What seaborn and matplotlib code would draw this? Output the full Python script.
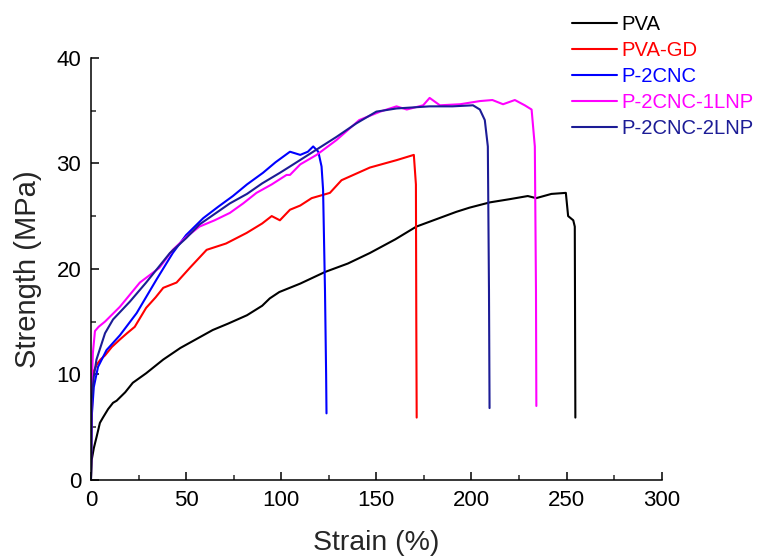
import matplotlib
matplotlib.use("Agg")
import matplotlib.pyplot as plt
import seaborn as sns
import pandas as pd
from matplotlib.ticker import MultipleLocator

sns.set_style("ticks")
plt.rcParams['font.family'] = ['Liberation Sans', 'DejaVu Sans']

labels = ["PVA", "PVA-GD", "P-2CNC", "P-2CNC-1LNP", "P-2CNC-2LNP"]
colors = ["#000000", "#ff0000", "#0000ff", "#ff00ff", "#1c1c96"]

pva_x = [0, 0.4, 1.5, 3, 4.7, 6.3, 9, 11.6, 13.5, 18, 22, 29, 38, 47, 55, 64, 72, 82, 90, 94, 99,
         110, 123, 135, 146.6, 160, 171, 183, 192, 199, 209.7, 220, 229.6, 234, 242, 249.6,
         250.8, 253.5, 254.3, 254.5, 254.6]
pva_y = [0, 1.9, 3.0, 4.1, 5.4, 5.9, 6.7, 7.3, 7.5, 8.3, 9.2, 10.1, 11.4, 12.5, 13.3, 14.2, 14.8,
         15.6, 16.5, 17.2, 17.8, 18.6, 19.7, 20.5, 21.5, 22.8, 24.0, 24.8, 25.4, 25.8, 26.3, 26.6,
         26.9, 26.7, 27.1, 27.2, 25.0, 24.6, 24.0, 12.0, 5.9]

gd_x = [0, 0.3, 1, 3, 5, 7.4, 11, 15.2, 19, 23, 29, 34, 38, 45, 52, 60.8, 71, 81.8, 90, 95, 99.3,
        104.6, 110, 116, 125.6, 131.7, 146.6, 160.6, 169.7, 170.8, 171.0, 171.2]
gd_y = [0, 5.0, 10.1, 10.9, 11.4, 11.8, 12.6, 13.3, 13.9, 14.5, 16.3, 17.3, 18.2, 18.7, 20.1,
        21.8, 22.4, 23.4, 24.3, 25.0, 24.6, 25.6, 26.0, 26.7, 27.2, 28.4, 29.6, 30.3, 30.8,
        28.0, 15.0, 5.9]

c2_x = [0, 0.4, 1.5, 3.7, 8.2, 15.2, 24, 34.5, 43, 50, 59, 67, 74.6, 82, 90.4, 97, 104.6, 110,
        114, 116.8, 119.5, 121.2, 122, 123, 123.6, 123.8]
c2_y = [0, 6.0, 8.8, 10.7, 12.3, 13.7, 15.8, 19.0, 21.5, 23.2, 24.8, 25.9, 26.9, 28.0, 29.1,
        30.1, 31.1, 30.8, 31.1, 31.6, 31.1, 29.7, 27.5, 18.0, 10.0, 6.3]

l1_x = [0, 0.3, 1, 2.1, 4, 7.4, 15.2, 25.7, 36, 43, 50, 57, 65, 73, 80, 87, 95, 102.8, 104.6,
        110, 118.6, 129, 141, 152, 160.6, 166, 174.6, 178, 183.4, 194, 204.4, 211, 216.6, 222.8,
        228, 231.6, 233.3, 233.9, 234.1]
l1_y = [3.0, 8.0, 12.0, 14.1, 14.5, 15.0, 16.4, 18.7, 20.1, 21.8, 23.0, 24.0, 24.6, 25.3, 26.2,
        27.2, 28.0, 28.9, 28.9, 29.9, 30.8, 32.2, 34.1, 34.9, 35.4, 35.1, 35.5, 36.2, 35.5,
        35.6, 35.9, 36.0, 35.6, 36.0, 35.5, 35.1, 31.6, 18.0, 7.0]

l2_x = [0, 0.4, 1.5, 2.9, 7.4, 11.6, 20.5, 29, 41.5, 50, 57, 65, 73, 82, 90, 99.3, 104.6, 116.8,
        129, 139.6, 150, 160.6, 178, 190, 200.8, 204.4, 207, 208.6, 209.2, 209.5]
l2_y = [0, 7.6, 9.8, 11.4, 13.9, 15.2, 16.9, 18.7, 21.5, 22.9, 24.2, 25.2, 26.2, 27.1, 28.1,
        29.1, 29.7, 31.1, 32.5, 33.8, 34.9, 35.2, 35.4, 35.4, 35.5, 35.1, 34.1, 31.6, 18.0, 6.8]

series_x = [pva_x, gd_x, c2_x, l1_x, l2_x]
series_y = [pva_y, gd_y, c2_y, l1_y, l2_y]

frames = []
for lab, xs, ys in zip(labels, series_x, series_y):
    d = pd.DataFrame({"Strain": xs, "Strength": ys})
    d["Sample"] = lab
    frames.append(d)
df = pd.concat(frames, ignore_index=True)

fig = plt.figure(figsize=(7.58, 5.56), dpi=100)
ax = fig.add_axes([0.12, 0.137, 0.753, 0.759])

sns.lineplot(data=df, x="Strain", y="Strength", hue="Sample", hue_order=labels,
             palette=dict(zip(labels, colors)), sort=False, estimator=None,
             units="Sample", linewidth=1.5, ax=ax, legend=False)

ax.set_xlim(0, 300)
ax.set_ylim(0, 40)
ax.xaxis.set_major_locator(MultipleLocator(50))
ax.xaxis.set_minor_locator(MultipleLocator(25))
ax.yaxis.set_major_locator(MultipleLocator(10))
ax.yaxis.set_minor_locator(MultipleLocator(5))
ax.tick_params(which="major", direction="in", length=6, width=1.1, labelsize=16, pad=7,
               colors="black")
ax.tick_params(which="minor", direction="in", length=3.5, width=1.1)
for s in ["top", "right"]:
    ax.spines[s].set_visible(False)
for s in ["left", "bottom"]:
    ax.spines[s].set_linewidth(1.1)
    ax.spines[s].set_color("black")

ax.set_xlabel("Strain (%)", fontsize=20.5, labelpad=14)
ax.set_ylabel("Strength (MPa)", fontsize=21, labelpad=10)

handles = [plt.Line2D([], [], color=c, linewidth=1.5) for c in colors]
fig.legend(handles, labels, loc="upper left", bbox_to_anchor=(0.736, 0.999),
           frameon=False, fontsize=14.6, handlelength=2.2, handletextpad=0.25,
           labelspacing=0.35, labelcolor=colors, borderaxespad=0.3)

fig.savefig("out.png", dpi=100)
